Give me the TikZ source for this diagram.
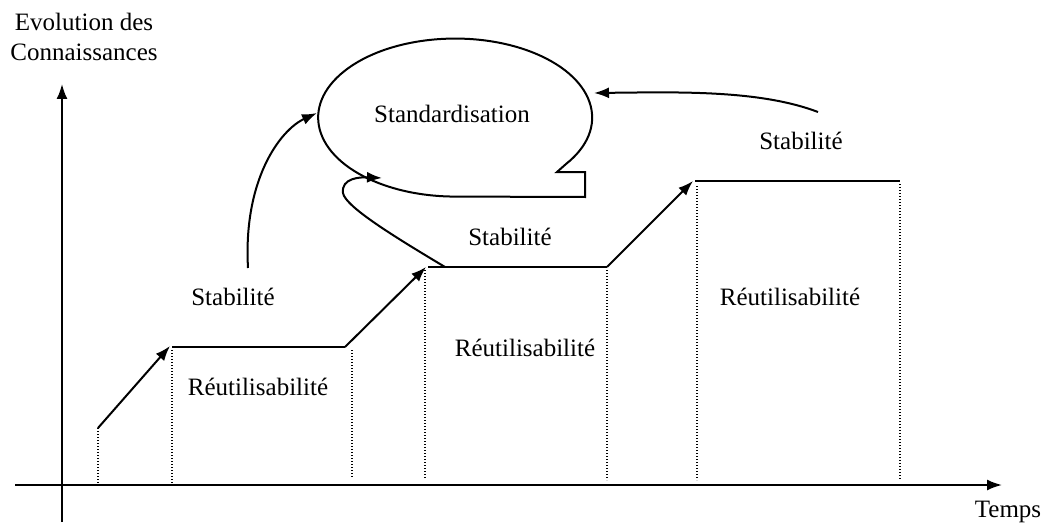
\documentclass[tikz,border=0pt]{standalone}
\usepackage{fontspec}
\setmainfont{Liberation Serif}
\usetikzlibrary{arrows.meta}
\begin{document}
\begin{tikzpicture}[x=1pt,y=-1pt,
  every node/.style={font=\fontsize{25}{30}\selectfont, inner sep=0pt},
  solidline/.style={line width=2pt},
  arr/.style={line width=2pt, -{Latex[length=15pt,width=11pt]}},
  dotline/.style={line width=1.5pt, dash pattern=on 1.2pt off 1.8pt}]
\useasboundingbox (0,0) rectangle (1044,524);
% axes
\coordinate (ybot) at (62,522);
\coordinate (ytop) at (62,84);
\coordinate (xl) at (15,485);
\coordinate (xr) at (1002,485);
\draw[arr] (ybot) -- (ytop);
\draw[arr] (xl) -- (xr);
\node[align=center] (ylab) at (84,37) {Evolution des\\Connaissances};
\node (xlab) at (1008,512) {Temps};
% steps
\coordinate (s0) at (98,428);
\coordinate (s0b) at (98,485);
\coordinate (p1l) at (170,346);
\coordinate (p1r) at (345,347);
\coordinate (p2l) at (426,267);
\coordinate (p2r) at (607,267);
\coordinate (p3l) at (693,181);
\coordinate (p3r) at (900,181);
\draw[arr] (s0) -- (p1l);
\draw[solidline] (172,347) -- (p1r);
\draw[arr] (p1r) -- (p2l);
\draw[solidline] (428,267) -- (p2r);
\draw[arr] (p2r) -- (p3l);
\draw[solidline] (695,181) -- (p3r);
% dotted verticals
\draw[dotline] (s0) -- (s0b);
\draw[dotline] (172,350) -- (172,485);
\draw[dotline] (352,350) -- (352,478);
\draw[dotline] (425,270) -- (425,478);
\draw[dotline] (607,270) -- (607,480);
\draw[dotline] (697,186) -- (697,480);
\draw[dotline] (900,184) -- (900,480);
% labels
\node (r1) at (258,387) {Réutilisabilité};
\node (r2) at (525,348) {Réutilisabilité};
\node (r3) at (790,297) {Réutilisabilité};
\node (st1) at (233,297) {Stabilité};
\node (st2) at (510,237) {Stabilité};
\node (st3) at (801,141) {Stabilité};
% standardisation bubble
\draw[solidline] (566,164) arc[start angle=36, end angle=-270, x radius=137, y radius=79]
  -- (585,197) -- (585,172) -- (557,172) -- cycle;
\node (std) at (452,114) {Standardisation};
\coordinate (eL) at (317,113);
\coordinate (eB) at (382,178);
\coordinate (eR) at (594,93);
\coordinate (c1) at (248,268);
\coordinate (c2) at (445,267);
\coordinate (c3) at (818,112);
\draw[arr] (c1) .. controls (243,180) and (280,130) .. (eL);
\draw[arr] (c2) .. controls (400,240) and (345,207) .. (343,193) .. controls (341,178) and (360,177) .. (eB);
\draw[arr] (c3) .. controls (760,90) and (680,92) .. (eR);
\end{tikzpicture}
\end{document}
